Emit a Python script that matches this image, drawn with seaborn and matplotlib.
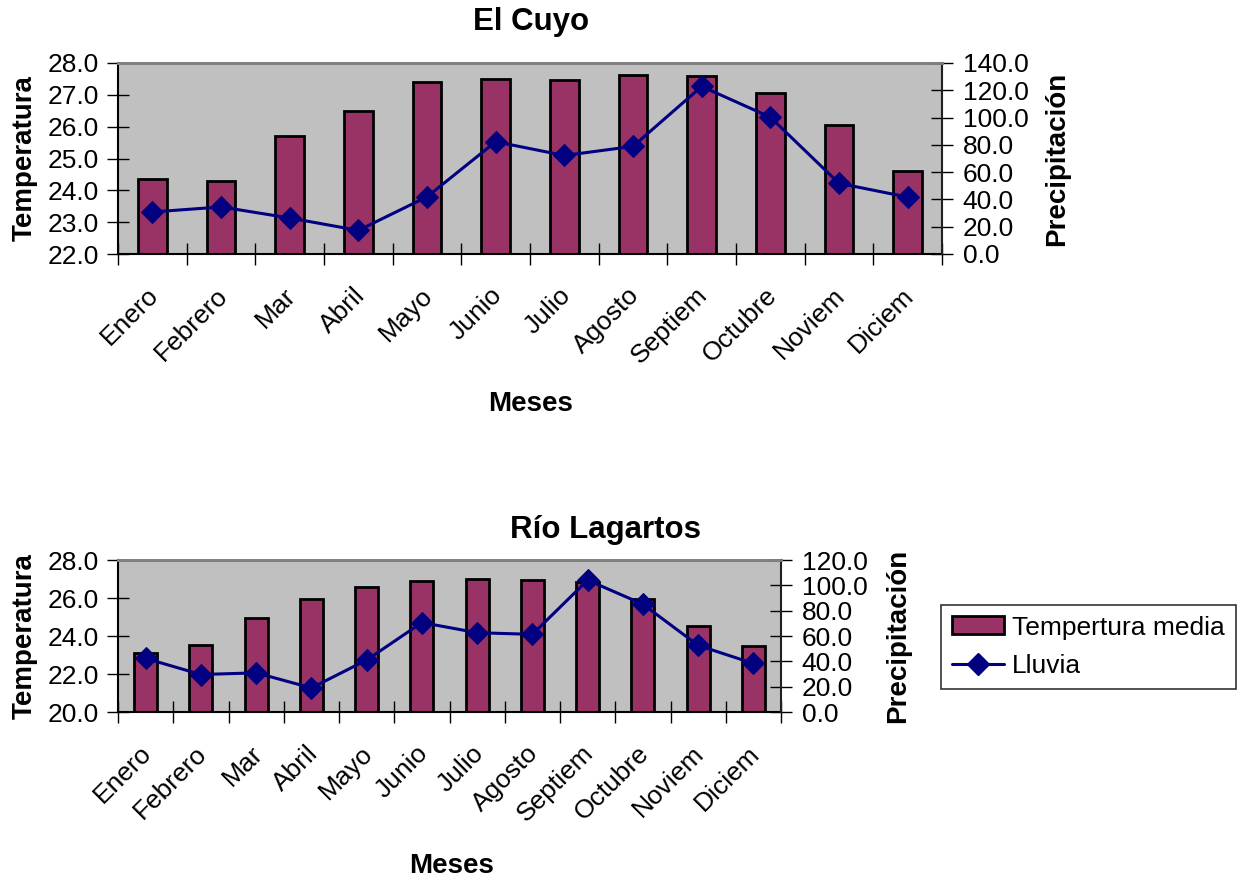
import numpy as np
import pandas as pd
import matplotlib
matplotlib.use("Agg")
import matplotlib.pyplot as plt
from matplotlib.ticker import FixedLocator, MultipleLocator, FormatStrFormatter
from matplotlib.patches import Patch
from matplotlib.lines import Line2D
from matplotlib.transforms import ScaledTranslation
import seaborn as sns

# Monthly climate data for two stations
meses = ["Enero", "Febrero", "Mar", "Abril", "Mayo", "Junio", "Julio",
         "Agosto", "Septiem", "Octubre", "Noviem", "Diciem"]

cuyo_temp = [24.35, 24.3, 25.7, 26.5, 27.4, 27.5, 27.46, 27.62, 27.58, 27.07, 26.06, 24.62]
cuyo_lluvia = [30.8, 34.5, 26.4, 17.3, 41.9, 82.3, 72.2, 78.9, 122.8, 100.3, 51.8, 41.7]

rio_temp = [23.08, 23.52, 24.95, 25.96, 26.6, 26.9, 27.0, 26.93, 26.82, 25.94, 24.53, 23.47]
rio_lluvia = [42.3, 29.6, 30.9, 19.0, 41.0, 70.6, 62.6, 61.3, 104.1, 85.1, 52.6, 38.3]

sns.set_theme(style="white")
plt.rcParams["font.family"] = ["Liberation Sans", "DejaVu Sans"]
for key in ("text.color", "axes.labelcolor", "xtick.color", "ytick.color"):
    plt.rcParams[key] = "black"

BAR = "#993366"
LINE = "#000080"
BG = "#C0C0C0"

fig = plt.figure(figsize=(12.42, 8.83), dpi=100)

TICK_FS = 19
LAB_FS = 20
TITLE_FS = 22.5


def draw_panel(rect, temps, rain, tlim, tstep, rlim, rstep, title, title_xy,
               xlabel_xy, ylab_x, rlab_x):
    ax = fig.add_axes(rect)
    df = pd.DataFrame({"mes": meses, "temp": temps, "lluvia": rain})
    sns.barplot(data=df, x="mes", y="temp", color=BAR, width=0.42,
                edgecolor="black", linewidth=2, saturation=1, ax=ax)
    ax.set_facecolor(BG)
    ax.set_xlim(-0.5, len(meses) - 0.5)
    ax.set_ylim(*tlim)
    ax.yaxis.set_major_locator(MultipleLocator(tstep))
    ax.yaxis.set_major_formatter(FormatStrFormatter("%.1f"))
    ax.set_xlabel("")
    ax.set_ylabel("")

    # category labels under bars, tick marks between categories
    ax.xaxis.set_major_locator(FixedLocator(np.arange(len(meses))))
    ax.set_xticklabels(meses, rotation=45, ha="right", rotation_mode="anchor",
                       fontsize=TICK_FS)
    ax.xaxis.set_minor_locator(FixedLocator(np.arange(len(meses) + 1) - 0.5))
    ax.tick_params(axis="x", which="major", length=0, pad=21)
    ax.tick_params(axis="x", which="minor", direction="inout", length=16,
                   width=1, color="black", bottom=True)
    ax.tick_params(axis="y", direction="inout", length=16, width=1,
                   color="black", labelsize=TICK_FS, pad=6, left=True)
    shift = ScaledTranslation(-6 / 100, 0, fig.dpi_scale_trans)
    for lab in ax.get_xticklabels():
        lab.set_transform(lab.get_transform() + shift)

    for side in ("left", "bottom"):
        ax.spines[side].set_color("black")
        ax.spines[side].set_linewidth(1.5)
    ax.spines["top"].set_color("#808080")
    ax.spines["top"].set_linewidth(2)
    ax.spines["right"].set_visible(False)

    ax2 = ax.twinx()
    sns.lineplot(data=df, x="mes", y="lluvia", sort=False, color=LINE,
                 linewidth=2.2, marker="D", markersize=11,
                 markeredgecolor=LINE, ax=ax2)
    ax2.set_ylim(*rlim)
    ax2.yaxis.set_major_locator(MultipleLocator(rstep))
    ax2.yaxis.set_major_formatter(FormatStrFormatter("%.1f"))
    ax2.set_ylabel("")
    ax2.set_xlabel("")
    ax2.tick_params(axis="y", direction="inout", length=16, width=1,
                    color="black", labelsize=TICK_FS, pad=7, right=True)
    for side in ("left", "bottom"):
        ax2.spines[side].set_visible(False)
    ax2.spines["top"].set_color("#808080")
    ax2.spines["top"].set_linewidth(2)
    ax2.spines["right"].set_color("#202020")
    ax2.spines["right"].set_linewidth(1.5)
    ax2.set_xlim(-0.5, len(meses) - 0.5)

    fig.text(title_xy[0], title_xy[1], title, ha="center", va="center",
             fontsize=TITLE_FS, fontweight="bold")
    fig.text(xlabel_xy[0], xlabel_xy[1], "Meses", ha="center", va="center",
             fontsize=LAB_FS, fontweight="bold")
    yc = rect[1] + rect[3] / 2
    fig.text(ylab_x, yc, "Temperatura", rotation=90, ha="center",
             va="center", fontsize=LAB_FS, fontweight="bold")
    fig.text(rlab_x, yc, "Precipitación", rotation=90, ha="center",
             va="center", fontsize=LAB_FS, fontweight="bold")
    return ax, ax2


W, H = 1242, 883


def rect_px(x0, y0, x1, y1):
    return [x0 / W, 1 - y1 / H, (x1 - x0) / W, (y1 - y0) / H]


draw_panel(rect_px(118, 63, 942, 254), cuyo_temp, cuyo_lluvia,
           (22, 28), 1, (0, 140), 20, "El Cuyo",
           (531 / W, 1 - 22 / H), (531 / W, 1 - 404 / H),
           25 / W, 1057 / W)

draw_panel(rect_px(118, 560, 781, 712), rio_temp, rio_lluvia,
           (20, 28), 2, (0, 120), 20, "Río Lagartos",
           (605 / W, 1 - 530 / H), (452 / W, 1 - 866 / H),
           25 / W, 898 / W)

handles = [Patch(facecolor=BAR, edgecolor="black", linewidth=2),
           Line2D([], [], color=LINE, linewidth=2.2, marker="D",
                  markersize=11, markeredgecolor=LINE)]
leg = fig.legend(handles, ["Tempertura media", "Lluvia"],
                 loc="upper left", bbox_to_anchor=(941 / W, 1 - 605 / H),
                 fontsize=TICK_FS, frameon=True, fancybox=False,
                 edgecolor="black", handlelength=2.0, handleheight=0.65,
                 handletextpad=0.3, borderpad=0.4, labelspacing=0.55,
                 borderaxespad=0)
leg.get_frame().set_linewidth(1.2)

fig.savefig("out.png", dpi=100)
